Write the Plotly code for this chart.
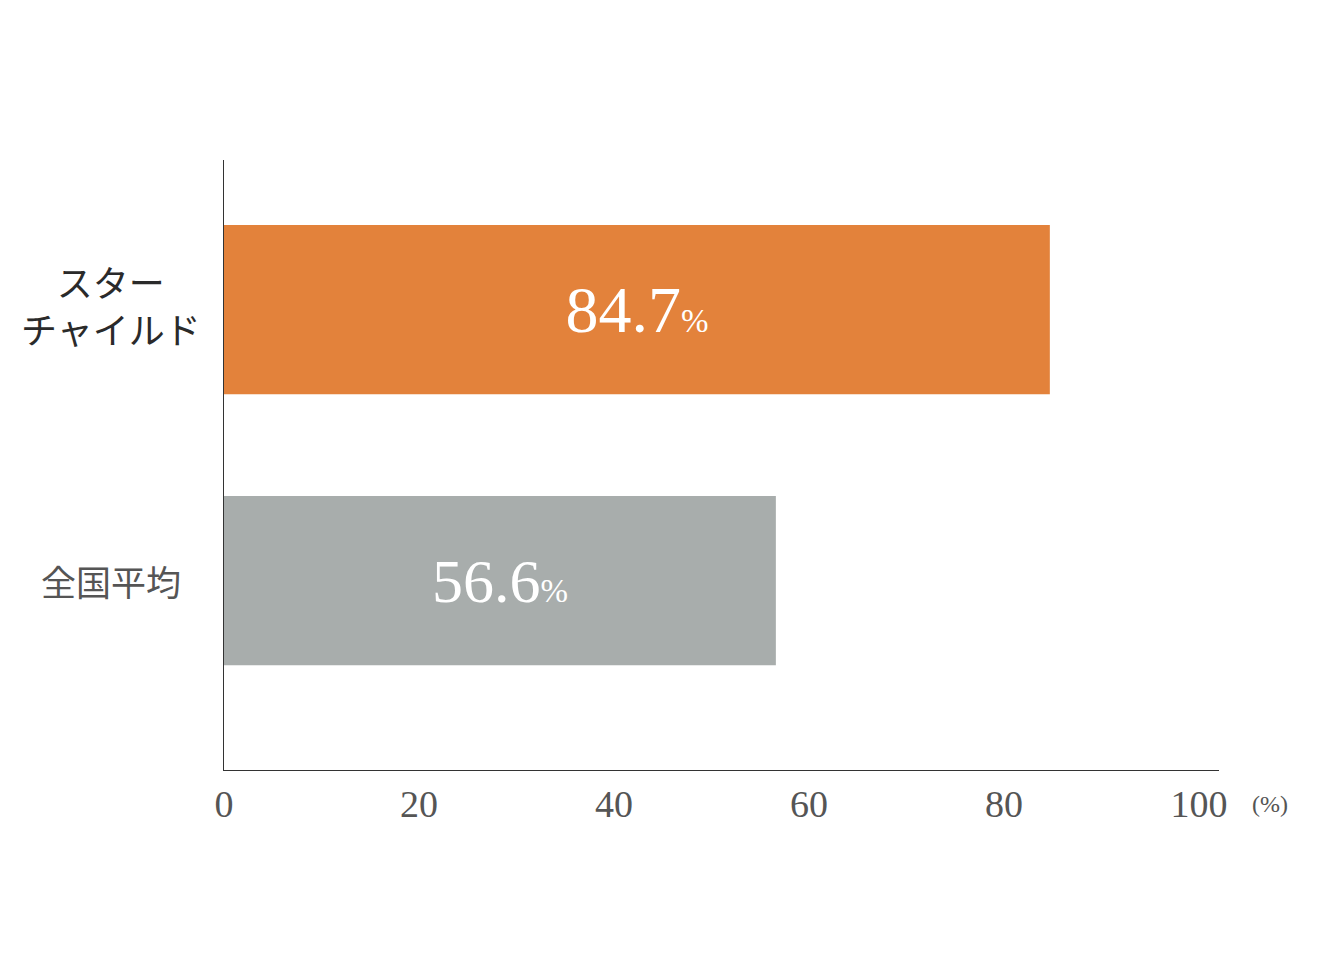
import plotly.graph_objects as go

categories = ["全国平均", "スター<br>チャイルド"]
values = [56.6, 84.7]
value_labels = ["56.6", "84.7"]
bar_colors = ["#A8ADAC", "#E3823B"]
x_ticks = [0, 20, 40, 60, 80, 100]
x_unit = "(%)"

serif = "Liberation Serif, DejaVu Serif, serif"
cjk = "Noto Sans CJK JP, sans-serif"

texts = [f"{v}<span style='font-size:33px'>%</span>" for v in value_labels]

fig = go.Figure()
fig.add_trace(go.Bar(
    x=values,
    y=[0, 1],
    orientation="h",
    width=0.624,
    marker=dict(color=bar_colors, line=dict(width=0)),
    text=texts,
    textposition="inside",
    insidetextanchor="middle",
    textangle=0,
    constraintext="none",
    textfont=dict(family=serif, size=[62, 66], color="white"),
    hoverinfo="skip",
))

label_styles = [
    dict(size=35, color="#555555"),
    dict(size=36, color="#2a2a2a"),
]
label_shift = [0, 5]
annotations = []
for i, cat in enumerate(categories):
    annotations.append(dict(
        x=-0.1136, xref="paper", y=i, yref="y",
        text=cat, showarrow=False, xanchor="center", yanchor="middle",
        align="center", yshift=label_shift[i],
        font=dict(family=cjk, **label_styles[i]),
    ))
annotations.append(dict(
    x=1.0, xref="paper", y=0, yref="paper",
    text=x_unit, showarrow=False, xanchor="left", yanchor="top",
    xshift=31, yshift=-19,
    font=dict(family=serif, size=24, color="#555555"),
))

fig.update_layout(
    width=1324, height=976,
    margin=dict(l=216, r=113, t=152, b=214),
    paper_bgcolor="white", plot_bgcolor="white",
    showlegend=False,
    annotations=annotations,
    xaxis=dict(
        range=[0, 102.05], tickvals=x_ticks, ticktext=[str(t) for t in x_ticks],
        showgrid=False, zeroline=False, showline=True, linecolor="#333333",
        linewidth=1, ticks="", ticklen=0,
        tickfont=dict(family=serif, size=38, color="#555555"),
        fixedrange=True,
    ),
    yaxis=dict(
        range=[-0.699, 1.552], showticklabels=False, showgrid=False,
        zeroline=False, showline=True, linecolor="#333333", linewidth=1,
        ticks="", fixedrange=True,
    ),
)

fig.write_html("out.html")
